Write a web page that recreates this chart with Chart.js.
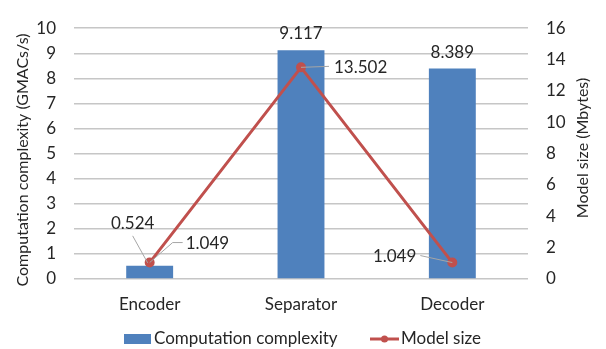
<!DOCTYPE html>
<html>
<head>
<meta charset="utf-8">
<script src="https://cdn.jsdelivr.net/npm/chart.js@4/dist/chart.umd.min.js"></script>
<style>
  html, body { margin: 0; padding: 0; background: #ffffff; }
  #wrap { width: 606px; height: 349px; position: relative; }
</style>
</head>
<body>
<div id="wrap"><canvas id="c" width="606" height="349"></canvas></div>
<script>
// Chart data
const categories = ['Encoder', 'Separator', 'Decoder'];
const computationComplexity = [0.524, 9.117, 8.389];   // GMACs/s (left axis)
const modelSize = [1.049, 13.502, 1.049];              // Mbytes (right axis)
const leftTickLabels = ['0', '1', '2', '3', '4', '5', '6', '7', '8', '9', '10'];
const rightTickLabels = ['0', '2', '4', '6', '8', '10', '12', '14', '16'];

const FONT = 'Lato, "Open Sans", sans-serif';
const FS = 17;
const TEXT = '#262626';
const BLUE = '#4F81BD';
const RED = '#C0504D';

// Placement of the value labels relative to each mark (pixels), plus optional leader lines
const barLabelPlacement = [
  { dx: -17, dy: -42, leader: true },
  { dx: 0, dy: -17, leader: false },
  { dx: 0, dy: -16, leader: false }
];
const lineLabelPlacement = [
  { dx: 36, dy: -19, align: 'left', leader: [[23, -20], [33, -20]] },
  { dx: 33, dy: 0, align: 'left', leader: [[28, -1]] },
  { dx: -36, dy: -6, align: 'right', leader: [[-32, -7]] }
];

const valueLabels = {
  id: 'valueLabels',
  afterDatasetsDraw(chart) {
    const ctx = chart.ctx;
    ctx.save();
    ctx.font = FS + 'px ' + FONT;
    ctx.fillStyle = TEXT;
    ctx.textBaseline = 'middle';
    ctx.strokeStyle = '#a6a6a6';
    ctx.lineWidth = 1;

    // bar labels
    const bars = chart.getDatasetMeta(0).data;
    bars.forEach((el, i) => {
      const p = barLabelPlacement[i];
      const lx = el.x + p.dx, ly = el.y + p.dy;
      if (p.leader) {
        ctx.beginPath();
        ctx.moveTo(lx, ly + 12);
        ctx.lineTo(el.x - 2, el.y - 3);
        ctx.stroke();
      }
      ctx.textAlign = 'center';
      ctx.fillText(computationComplexity[i].toFixed(3), lx, ly);
    });

    // line labels
    const pts = chart.getDatasetMeta(1).data;
    pts.forEach((el, i) => {
      const p = lineLabelPlacement[i];
      ctx.beginPath();
      ctx.moveTo(el.x, el.y);
      p.leader.forEach(([ox, oy]) => ctx.lineTo(el.x + ox, el.y + oy));
      ctx.stroke();
      ctx.textAlign = p.align;
      ctx.fillText(modelSize[i].toFixed(3), el.x + p.dx, el.y + p.dy);
    });
    ctx.restore();
  }
};

// Axis titles and legend
const decorations = {
  id: 'decorations',
  afterDraw(chart) {
    const ctx = chart.ctx;
    ctx.save();
    ctx.fillStyle = TEXT;
    ctx.font = '16px ' + FONT;
    ctx.textAlign = 'center';
    ctx.textBaseline = 'middle';

    ctx.save();
    ctx.translate(23, 160);
    ctx.rotate(-Math.PI / 2);
    ctx.fillText('Computation complexity (GMACs/s)', 0, 0);
    ctx.restore();

    ctx.save();
    ctx.translate(583, 148);
    ctx.rotate(-Math.PI / 2);
    ctx.fillText('Model size (Mbytes)', 0, 0);
    ctx.restore();

    // legend
    ctx.font = FS + 'px ' + FONT;
    const ly = 339;
    const ds = chart.data.datasets;
    ctx.textAlign = 'left';
    ctx.fillStyle = ds[0].backgroundColor;
    ctx.fillRect(124, ly - 5, 27, 10);
    ctx.fillStyle = TEXT;
    ctx.fillText(ds[0].label, 154, ly);

    ctx.strokeStyle = ds[1].borderColor;
    ctx.lineWidth = 3;
    ctx.beginPath();
    ctx.moveTo(370, ly);
    ctx.lineTo(399, ly);
    ctx.stroke();
    ctx.fillStyle = ds[1].borderColor;
    ctx.beginPath();
    ctx.arc(384.5, ly, 3.5, 0, Math.PI * 2);
    ctx.fill();
    ctx.fillStyle = TEXT;
    ctx.fillText(ds[1].label, 401, ly);
    ctx.restore();
  }
};

new Chart(document.getElementById('c'), {
  data: {
    labels: categories,
    datasets: [
      {
        type: 'bar',
        label: 'Computation complexity',
        data: computationComplexity,
        backgroundColor: BLUE,
        yAxisID: 'y',
        barPercentage: 0.31,
        categoryPercentage: 1.0,
        order: 1
      },
      {
        type: 'line',
        label: 'Model size',
        data: modelSize,
        borderColor: RED,
        backgroundColor: RED,
        borderWidth: 3,
        pointRadius: 3.5,
        pointBackgroundColor: RED,
        pointBorderColor: RED,
        yAxisID: 'y1',
        tension: 0,
        order: 0
      }
    ]
  },
  options: {
    responsive: false,
    animation: false,
    devicePixelRatio: 1,
    layout: { padding: { top: 16, left: 0, right: 0, bottom: 30 } },
    plugins: {
      legend: { display: false },
      tooltip: { enabled: false }
    },
    scales: {
      x: {
        grid: { display: false, drawTicks: false },
        border: { display: false },
        ticks: { color: TEXT, font: { family: FONT, size: FS }, padding: 15 },
        afterFit(s) { s.height = 40; }
      },
      y: {
        position: 'left',
        min: 0, max: 10,
        grid: { color: '#c6c6c6', lineWidth: 1.5, drawTicks: false },
        border: { display: false },
        ticks: {
          stepSize: 1,
          color: TEXT,
          font: { family: FONT, size: FS },
          padding: 18,
          callback: (v, i) => leftTickLabels[i]
        },
        afterFit(s) { s.width = 74; }
      },
      y1: {
        position: 'right',
        min: 0, max: 16,
        grid: { display: false, drawTicks: false },
        border: { display: false },
        ticks: {
          stepSize: 2,
          color: TEXT,
          font: { family: FONT, size: FS },
          padding: 18,
          callback: (v, i) => rightTickLabels[i]
        },
        afterFit(s) { s.width = 78; }
      }
    }
  },
  plugins: [valueLabels, decorations]
});
</script>
</body>
</html>
